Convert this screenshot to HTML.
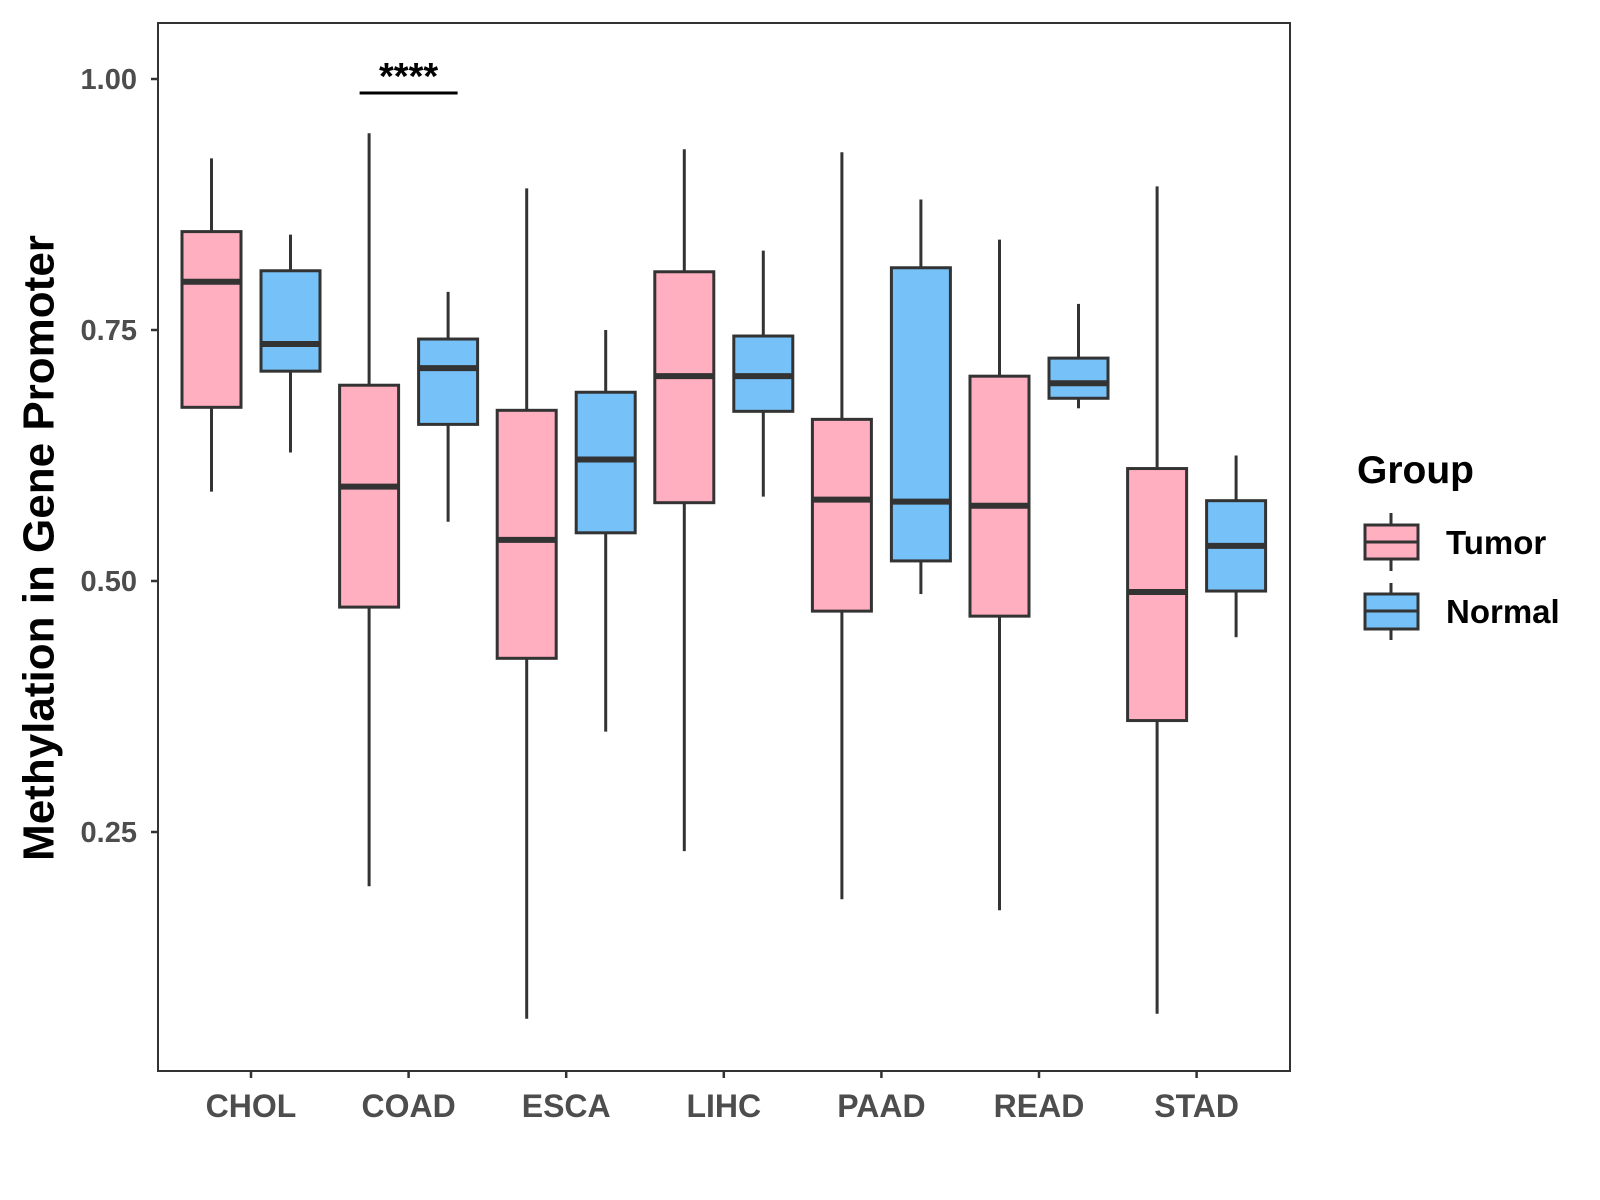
<!DOCTYPE html>
<html><head><meta charset="utf-8"><style>
html,body{margin:0;padding:0;background:#fff;}
svg{display:block;font-family:"Liberation Sans",Arial,sans-serif;}
</style></head><body>
<svg id="chart" width="1600" height="1200" viewBox="0 0 1600 1200">
<rect x="0" y="0" width="1600" height="1200" fill="#fff"/>
<g id="plot"></g>
<rect x="158" y="23" width="1132" height="1048" fill="none" stroke="#333" stroke-width="2"/>
<text x="39" y="548" transform="rotate(-90 39 548)" text-anchor="middle" dominant-baseline="central" font-size="44" font-weight="bold" fill="#000">Methylation in Gene Promoter</text>
<g>
<text x="1357" y="483" font-size="39" font-weight="bold" fill="#000">Group</text>
<g>
<line x1="1391" y1="513" x2="1391" y2="571" stroke="#333" stroke-width="3"/>
<rect x="1365" y="525" width="53" height="34" fill="#FFAFC0" stroke="#333" stroke-width="3"/>
<line x1="1365" y1="542" x2="1418" y2="542" stroke="#333" stroke-width="3"/>
<text x="1446" y="554" font-size="33" font-weight="bold" fill="#000">Tumor</text>
</g>
<g>
<line x1="1391" y1="583" x2="1391" y2="640" stroke="#333" stroke-width="3"/>
<rect x="1365" y="594" width="53" height="35" fill="#76C1F8" stroke="#333" stroke-width="3"/>
<line x1="1365" y1="611" x2="1418" y2="611" stroke="#333" stroke-width="3"/>
<text x="1446" y="623" font-size="33" font-weight="bold" fill="#000">Normal</text>
</g>
</g>
</svg>
<script>
const categories = ["CHOL","COAD","ESCA","LIHC","PAAD","READ","STAD"];
const tumorLow = [0.589,0.196,0.064,0.231,0.183,0.172,0.069];
const tumorQ1 = [0.673,0.474,0.423,0.578,0.470,0.465,0.361];
const tumorMed = [0.798,0.594,0.541,0.704,0.581,0.575,0.489];
const tumorQ3 = [0.848,0.695,0.670,0.808,0.661,0.704,0.612];
const tumorHigh = [0.921,0.946,0.891,0.930,0.927,0.840,0.893];
const normalLow = [0.628,0.559,0.350,0.584,0.487,0.672,0.444];
const normalQ1 = [0.709,0.656,0.548,0.669,0.520,0.682,0.490];
const normalMed = [0.736,0.712,0.621,0.704,0.579,0.697,0.535];
const normalQ3 = [0.809,0.741,0.688,0.744,0.812,0.722,0.580];
const normalHigh = [0.845,0.788,0.750,0.829,0.880,0.776,0.625];
const yTicks = [0.25,0.50,0.75,1.00];
const yTickLabels = ["0.25","0.50","0.75","1.00"];
const sigLabel = "****";

const NS="http://www.w3.org/2000/svg";
const g=document.getElementById('plot');
function yS(v){return 79+(1-v)*1004;}
function xS(i){return 251+i*157.6;}
function mk(tag,attrs,parent){const e=document.createElementNS(NS,tag);for(const k in attrs)e.setAttribute(k,attrs[k]);(parent||g).appendChild(e);return e;}

yTicks.forEach((t,i)=>{
  const y=yS(t);
  const tk=mk('line',{x1:151,x2:158,y1:y,y2:y,stroke:'#333','stroke-width':2.5});
  
  
  const tx=mk('text',{x:137,y:y+1,'text-anchor':'end','dominant-baseline':'central','font-size':29,'font-weight':'bold',fill:'#4d4d4d'});
  tx.textContent=yTickLabels[i];
  
  
});
categories.forEach((c,i)=>{
  const x=xS(i);
  const tk=mk('line',{x1:x,x2:x,y1:1071,y2:1078,stroke:'#333','stroke-width':2.5});
  
  
  const tx=mk('text',{x:x,y:1106,'text-anchor':'middle','dominant-baseline':'central','font-size':32,'font-weight':'bold',fill:'#4d4d4d'});
  tx.textContent=c;
  
  
});
function box(cx,lo,q1,md,q3,hi,fill,name){
  const grp=mk('g',{});
  
  
  mk('line',{x1:cx,x2:cx,y1:yS(hi),y2:yS(q3),stroke:'#333','stroke-width':3},grp);
  mk('line',{x1:cx,x2:cx,y1:yS(q1),y2:yS(lo),stroke:'#333','stroke-width':3},grp);
  mk('rect',{x:cx-29.5,y:yS(q3),width:59,height:yS(q1)-yS(q3),fill:fill,stroke:'#333','stroke-width':3},grp);
  mk('line',{x1:cx-29.5,x2:cx+29.5,y1:yS(md),y2:yS(md),stroke:'#333','stroke-width':6},grp);
}
categories.forEach((c,i)=>{
  box(xS(i)-39.5,tumorLow[i],tumorQ1[i],tumorMed[i],tumorQ3[i],tumorHigh[i],'#FFAFC0','box-tumor-'+c.toLowerCase());
  box(xS(i)+39.5,normalLow[i],normalQ1[i],normalMed[i],normalQ3[i],normalHigh[i],'#76C1F8','box-normal-'+c.toLowerCase());
});
const sb=mk('line',{x1:xS(1)-49,x2:xS(1)+49,y1:93,y2:93,stroke:'#000','stroke-width':3});


const st=mk('text',{x:xS(1),y:89,'text-anchor':'middle','font-size':38,'font-weight':'bold',fill:'#000'});
st.textContent=sigLabel;


</script>
</body></html>
